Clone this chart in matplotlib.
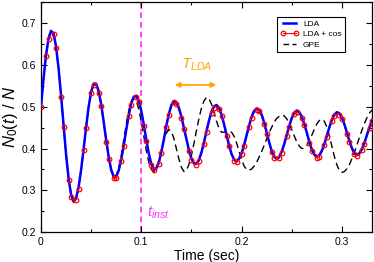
import numpy as np
import matplotlib
matplotlib.use("Agg")
import matplotlib.pyplot as plt
from matplotlib.lines import Line2D
from matplotlib.ticker import MultipleLocator

plt.rcParams['font.family'] = ['Liberation Sans', 'DejaVu Sans']
plt.rcParams['mathtext.fontset'] = 'custom'
plt.rcParams['mathtext.rm'] = 'Liberation Sans'
plt.rcParams['mathtext.it'] = 'Liberation Sans:italic'

# time grid (sec), step 0.0025
time = np.round(np.arange(0, 0.33001, 0.0025), 4)

lda = [0.500, 0.566, 0.623, 0.663, 0.681, 0.675, 0.644, 0.592, 0.527, 0.455,
       0.386, 0.329, 0.290, 0.274, 0.282, 0.308, 0.349, 0.399, 0.452, 0.500,
       0.536, 0.555, 0.555, 0.537, 0.506, 0.464, 0.420, 0.380, 0.349, 0.333,
       0.333, 0.348, 0.374, 0.408, 0.445, 0.480, 0.508, 0.524, 0.526, 0.514,
       0.490, 0.457, 0.421, 0.388, 0.363, 0.351, 0.353, 0.367, 0.392, 0.422,
       0.455, 0.483, 0.504, 0.513, 0.510, 0.497, 0.476, 0.449, 0.421, 0.396,
       0.376, 0.365, 0.364, 0.373, 0.391, 0.415, 0.442, 0.467, 0.488, 0.501,
       0.504, 0.497, 0.481, 0.458, 0.433, 0.408, 0.387, 0.374, 0.370, 0.376,
       0.389, 0.409, 0.432, 0.455, 0.476, 0.490, 0.496, 0.493, 0.481, 0.462,
       0.438, 0.415, 0.394, 0.381, 0.376, 0.380, 0.393, 0.411, 0.433, 0.454,
       0.473, 0.486, 0.491, 0.487, 0.476, 0.459, 0.438, 0.416, 0.398, 0.386,
       0.381, 0.384, 0.395, 0.411, 0.431, 0.451, 0.469, 0.481, 0.487, 0.484,
       0.474, 0.458, 0.438, 0.418, 0.401, 0.389, 0.385, 0.389, 0.399, 0.414,
       0.433, 0.451, 0.468]

lda_cos = [0.500, 0.565, 0.621, 0.661, 0.679, 0.673, 0.641, 0.589, 0.524, 0.451,
           0.382, 0.325, 0.285, 0.270, 0.278, 0.304, 0.346, 0.397, 0.450, 0.497,
           0.533, 0.551, 0.551, 0.533, 0.502, 0.460, 0.416, 0.376, 0.345, 0.329,
           0.329, 0.345, 0.371, 0.405, 0.442, 0.477, 0.505, 0.521, 0.523, 0.511,
           0.487, 0.454, 0.418, 0.385, 0.360, 0.348, 0.350, 0.364, 0.389, 0.419,
           0.452, 0.480, 0.501, 0.510, 0.507, 0.494, 0.473, 0.446, 0.418, 0.393,
           0.373, 0.362, 0.361, 0.370, 0.388, 0.412, 0.439, 0.464, 0.485, 0.498,
           0.501, 0.494, 0.478, 0.455, 0.430, 0.405, 0.384, 0.371, 0.367, 0.373,
           0.386, 0.406, 0.429, 0.452, 0.473, 0.487, 0.493, 0.490, 0.478, 0.459,
           0.435, 0.412, 0.391, 0.378, 0.373, 0.377, 0.390, 0.408, 0.430, 0.451,
           0.470, 0.483, 0.488, 0.484, 0.473, 0.456, 0.435, 0.413, 0.395, 0.383,
           0.378, 0.381, 0.392, 0.408, 0.428, 0.448, 0.466, 0.478, 0.484, 0.481,
           0.471, 0.455, 0.435, 0.415, 0.398, 0.386, 0.382, 0.386, 0.396, 0.411,
           0.430, 0.448, 0.465]

gpe = [0.500, 0.566, 0.623, 0.663, 0.681, 0.675, 0.644, 0.592, 0.527, 0.455,
       0.386, 0.329, 0.290, 0.274, 0.282, 0.308, 0.349, 0.399, 0.452, 0.500,
       0.536, 0.555, 0.555, 0.537, 0.506, 0.464, 0.420, 0.380, 0.349, 0.333,
       0.336, 0.354, 0.383, 0.420, 0.458, 0.491, 0.513, 0.521, 0.514, 0.494,
       0.464, 0.429, 0.395, 0.367, 0.350, 0.345, 0.353, 0.372, 0.395, 0.419,
       0.437, 0.445, 0.441, 0.424, 0.400, 0.375, 0.355, 0.345, 0.348, 0.362,
       0.384, 0.412, 0.443, 0.472, 0.497, 0.514, 0.522, 0.519, 0.506, 0.486,
       0.465, 0.448, 0.439, 0.439, 0.441, 0.441, 0.439, 0.429, 0.413, 0.393,
       0.374, 0.358, 0.350, 0.348, 0.351, 0.358, 0.367, 0.380, 0.393, 0.408,
       0.423, 0.438, 0.451, 0.463, 0.472, 0.477, 0.480, 0.478, 0.471, 0.459,
       0.445, 0.430, 0.416, 0.406, 0.400, 0.401, 0.407, 0.418, 0.432, 0.446,
       0.459, 0.467, 0.470, 0.465, 0.451, 0.430, 0.405, 0.381, 0.361, 0.347,
       0.343, 0.345, 0.352, 0.362, 0.376, 0.391, 0.409, 0.427, 0.444, 0.460,
       0.474, 0.485, 0.492]

assert len(time) == len(lda) == len(lda_cos) == len(gpe), (len(time), len(lda), len(lda_cos), len(gpe))

t_inst = 0.1
t_lda_start, t_lda_end = 0.1333, 0.1748

fig = plt.figure(figsize=(3.74, 2.62), dpi=100)
ax = fig.add_axes([0.1096, 0.1134, 0.8851, 0.879])

ax.axvline(t_inst, color='#ff44ff', lw=1.4, ls=(0, (3, 2)), zorder=1)
ax.plot(time, gpe, color='black', lw=1.0, ls=(0, (5, 3)), zorder=2)
ax.plot(time, lda_cos, color='red', lw=0.8, zorder=2.5)
ax.plot(time, lda, color='#0000ff', lw=1.8, zorder=3)
mk = [i for i in range(len(time)) if i % 3 != 1]
ax.plot(time, lda_cos, ls='none', marker='o', ms=3.3, mfc='none', mec='red', mew=0.9,
        markevery=mk, zorder=4)

ax.annotate('', xy=(t_lda_start, 0.552), xytext=(t_lda_end, 0.552),
            arrowprops=dict(arrowstyle='<|-|>', color='#ffa500', lw=1.3,
                            mutation_scale=7, shrinkA=0, shrinkB=0))
ax.text(0.140, 0.590, r'$T_{LDA}$', color='#ffa500', fontsize=11, ha='left', va='baseline')
ax.text(0.1055, 0.237, r'$t_{inst}$', color='#ff33ff', fontsize=11, ha='left', va='baseline')

ax.set_xlim(0, 0.33)
ax.set_ylim(0.2, 0.75)
ax.xaxis.set_major_locator(MultipleLocator(0.1))
ax.xaxis.set_minor_locator(MultipleLocator(0.05))
ax.yaxis.set_major_locator(MultipleLocator(0.1))
ax.yaxis.set_minor_locator(MultipleLocator(0.05))
ax.set_xticklabels([], minor=True)
ax.xaxis.set_major_formatter(plt.FuncFormatter(lambda v, p: '0' if abs(v) < 1e-9 else f'{v:.1f}'))
ax.tick_params(which='both', direction='in', top=True, right=True, labelsize=7.5, width=0.8)
ax.tick_params(which='major', length=4)
ax.tick_params(which='minor', length=2.5)
for s in ax.spines.values():
    s.set_linewidth(0.9)

ax.set_xlabel('Time (sec)', fontsize=10, labelpad=1)
ax.set_ylabel(r'$N_0(t)$ / $N$', fontsize=12, labelpad=1)

handles = [Line2D([], [], color='#0000ff', lw=1.8),
           Line2D([], [], color='red', lw=0.8, marker='o', ms=3.3, mfc='none', mew=0.9),
           Line2D([], [], color='black', lw=1.0, ls=(0, (4, 2.5)))]
leg = ax.legend(handles, ['LDA', 'LDA + cos', 'GPE'], loc='upper right',
                bbox_to_anchor=(0.918, 0.936), borderaxespad=0, fontsize=6,
                frameon=True, fancybox=False, edgecolor='black', framealpha=1,
                handlelength=2.2, handletextpad=0.5, labelspacing=0.3,
                borderpad=0.4, numpoints=2)
leg.get_frame().set_linewidth(0.8)

fig.savefig('out.png', dpi=100)
